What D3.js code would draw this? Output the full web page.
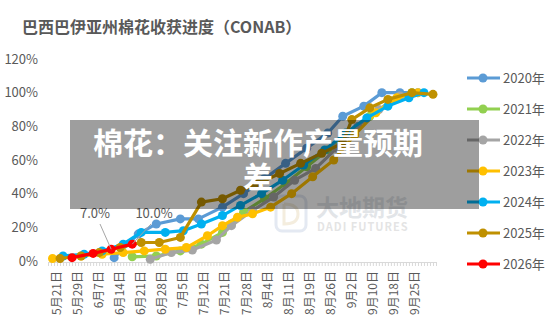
<!DOCTYPE html>
<html>
<head>
<meta charset="utf-8">
<script src="https://cdn.jsdelivr.net/npm/d3@7"></script>
<style>
  body { margin: 0; background: #fff; }
  text { font-family: "Noto Sans CJK SC", "Noto Sans", sans-serif; }
</style>
</head>
<body>
<div id="chart"></div>
<script>
// x axis labels (one every 7 days, day 0 = 5月21日)
var dateLabels = ["5月21日", "5月29日", "6月7日", "6月14日", "6月21日", "6月28日", "7月5日", "7月12日", "7月21日",
  "7月28日", "8月4日", "8月11日", "8月19日", "8月26日", "9月2日", "9月10日", "9月18日", "9月25日"];
var yTicks = [0, 20, 40, 60, 80, 100, 120];
var years = ["2020年", "2021年", "2022年", "2023年", "2024年", "2025年", "2026年"];
var colors = ["#5B9BD5", "#92D050", "#A5A5A5", "#FFC000", "#00B0F0", "#BF9000", "#FF0000"];

// harvest progress, day = days after 5月21日, value in %
var day2020 = [19, 27, 33, 41, 47, 55, 62, 69, 76, 83, 90, 95, 102, 108, 114, 120];
var val2020 = [2, 16, 22, 25, 25, 32, 40, 49, 58, 67, 76, 86, 92, 100, 100, 100];
var day2021 = [25, 33, 41, 48, 55, 58, 62, 69, 76, 83, 90, 97, 104, 111, 118];
var val2021 = [2.5, 3, 6, 10, 17, 22, 29, 37, 46, 56, 66, 76, 86, 95, 100];
var day2022 = [31, 38, 45, 53, 58, 65, 72, 79, 86, 93, 100, 107, 114];
var val2022 = [1, 5, 6.5, 12.5, 21, 30, 38, 48, 55, 67, 80, 90, 98];
var day2023 = [-1.5, 8, 15, 22, 29, 36, 43, 50, 55, 60, 65, 71, 78, 85, 92, 99, 106, 113, 120];
var val2023 = [1.5, 3, 4, 5, 6, 7, 8, 15, 21, 26, 28, 32, 40, 50, 60, 75, 88, 97, 100];
var day2024 = [2, 9, 15, 22, 28, 36, 42, 48, 55, 61, 68, 75, 82, 89, 96, 103, 110, 117, 122];
var val2024 = [3, 4, 6, 10, 17, 17, 18, 22, 27, 33, 40, 48, 57, 66, 76, 85, 92, 97, 100];
var day2025 = [1, 8, 14, 21, 28, 34, 41, 48, 55, 61, 67, 74, 81, 88, 95, 98, 104, 110, 118, 125];
var val2025 = [1.5, 3, 5, 8, 11, 11, 14, 35, 37, 42, 46, 52, 58, 64, 70, 84, 91, 96, 100, 99];
var day2026 = [5, 12, 18, 25];
var val2026 = [2, 4.5, 7, 10];

var dayData = [day2020, day2021, day2022, day2023, day2024, day2025, day2026];
var valData = [val2020, val2021, val2022, val2023, val2024, val2025, val2026];

var width = 550, height = 331;
var svg = d3.select("#chart").append("svg").attr("width", width).attr("height", height);

var x = d3.scaleLinear().domain([-3, 126]).range([48, 436]);
var y = d3.scaleLinear().domain([0, 120]).range([261, 59]);

// title
svg.append("text")
    .attr("x", 22).attr("y", 33)
    .attr("font-size", 16).attr("font-weight", "bold")
    .attr("fill", "#595959")
    .text("巴西巴伊亚州棉花收获进度（CONAB）");

// y axis labels
svg.append("g").selectAll("text")
    .data(yTicks)
    .enter().append("text")
    .attr("x", 38).attr("y", function(d) { return y(d); })
    .attr("dy", "0.35em")
    .attr("text-anchor", "end")
    .attr("font-size", 13).attr("fill", "#595959")
    .text(function(d) { return d + "%"; });

// x axis: daily minor ticks
var xAxis = d3.axisBottom(x)
    .tickValues(d3.range(-3, 127))
    .tickSize(4)
    .tickFormat("");
var gx = svg.append("g").attr("transform", "translate(0,262)").call(xAxis);
gx.select(".domain").attr("stroke", "#d9d9d9");
gx.selectAll(".tick line").attr("stroke", "#d9d9d9");

// x labels, rotated
svg.append("g").selectAll("text")
    .data(dateLabels)
    .enter().append("text")
    .attr("transform", function(d, i) { return "translate(" + (x(i * 7) + 4) + ",271) rotate(-90)"; })
    .attr("text-anchor", "end")
    .attr("font-size", 12).attr("fill", "#595959")
    .text(function(d) { return d; });

// watermark
var wm = svg.append("g").attr("opacity", 0.28);
wm.append("rect").attr("x", 276).attr("y", 196).attr("width", 30).attr("height", 35).attr("rx", 6)
    .attr("fill", "none").attr("stroke", "#9fb3d1").attr("stroke-width", 3);
wm.append("path").attr("d", "M284,204 L284,224 Q298,224 298,214 Q298,204 284,204")
    .attr("fill", "none").attr("stroke", "#d9c08a").attr("stroke-width", 3);
wm.append("text").attr("x", 316).attr("y", 216).attr("font-size", 23).attr("font-weight", "bold")
    .attr("fill", "#9aa3b0").text("大地期货");
wm.append("text").attr("x", 317).attr("y", 231).attr("font-size", 11).attr("font-weight", "bold")
    .attr("letter-spacing", 1).attr("fill", "#a0a0a0").text("DADI FUTURES");

// series
var line = d3.line()
    .x(function(d) { return x(d[0]); })
    .y(function(d) { return y(d[1]); });

var order = [0, 1, 2, 3, 4, 5, 6];
order.forEach(function(k) {
  var pts = dayData[k].map(function(dd, i) { return [dd, valData[k][i]]; });
  var g = svg.append("g");
  g.append("path").datum(pts)
      .attr("d", line)
      .attr("fill", "none")
      .attr("stroke", colors[k])
      .attr("stroke-width", 3.2)
      .attr("stroke-linejoin", "round");
  g.selectAll("circle").data(pts)
      .enter().append("circle")
      .attr("cx", function(d) { return x(d[0]); })
      .attr("cy", function(d) { return y(d[1]); })
      .attr("r", 4.5)
      .attr("fill", colors[k]);
});

// data labels for 2026
var labelPts = [[18, 7, 95, 218], [25, 10, 154, 218]];
labelPts.forEach(function(p) {
  svg.append("line")
      .attr("x1", p[2] + (p[0] == 18 ? 5 : -3)).attr("y1", 224)
      .attr("x2", x(p[0])).attr("y2", y(p[1]))
      .attr("stroke", "#a6a6a6").attr("stroke-width", 1);
  svg.append("text")
      .attr("x", p[2]).attr("y", p[3])
      .attr("text-anchor", "middle")
      .attr("font-size", 13).attr("fill", "#595959")
      .text(d3.format(".1f")(p[1]) + "%");
});

// legend
var leg = svg.append("g").selectAll("g")
    .data(years)
    .enter().append("g")
    .attr("transform", function(d, i) { return "translate(0," + (78 + i * 31) + ")"; });
leg.append("line").attr("x1", 467).attr("x2", 500)
    .attr("stroke", function(d, i) { return colors[i]; }).attr("stroke-width", 3.2);
leg.append("circle").attr("cx", 483).attr("r", 4.5)
    .attr("fill", function(d, i) { return colors[i]; });
leg.append("text").attr("x", 503).attr("dy", "0.35em")
    .attr("font-size", 13).attr("fill", "#595959")
    .text(function(d) { return d; });

// headline banner
svg.append("rect")
    .attr("x", 70).attr("y", 120).attr("width", 409).attr("height", 89)
    .attr("fill", "rgba(0,0,0,0.38)");
var banner = svg.append("text")
    .attr("text-anchor", "middle")
    .attr("font-size", 30).attr("font-weight", "bold")
    .attr("fill", "#fff");
banner.append("tspan").attr("x", 258).attr("y", 154).text("棉花：关注新作产量预期");
banner.append("tspan").attr("x", 258).attr("y", 188).text("差");
</script>
</body>
</html>
